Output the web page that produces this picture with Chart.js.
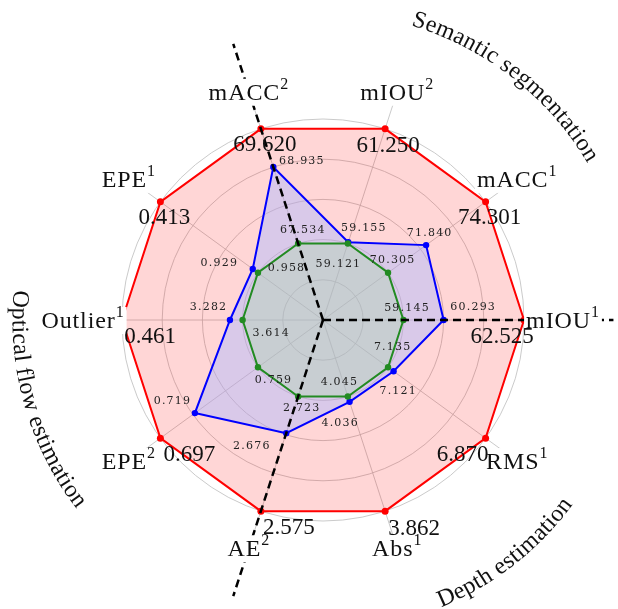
<!DOCTYPE html>
<html lang="en">
<head>
<meta charset="UTF-8">
<title>Multi-task radar</title>
<script src="https://cdn.jsdelivr.net/npm/chart.js"></script>
<style>
  html, body { margin: 0; padding: 0; background: #fff; }
  #wrap { width: 618px; height: 609px; position: relative; }
</style>
</head>
<body>
<div id="wrap"><canvas id="radarChart"></canvas></div>
<script>
// spokes, clockwise starting from the one pointing right
const metrics = ['mIOU¹', 'RMS¹', 'Abs¹', 'AE²', 'EPE²', 'Outlier¹', 'EPE¹', 'mACC²', 'mIOU²', 'mACC¹'];

// normalised radius of each polygon (1 = outer ring)
const outerScores = [1, 1, 1, 1, 1, 1, 1, 1, 1, 1];
const blueScores = [0.60, 0.434, 0.428, 0.592, 0.788, 0.463, 0.432, 0.80, 0.407, 0.634];
const greenScores = [0.40, 0.40, 0.40, 0.40, 0.40, 0.40, 0.40, 0.40, 0.40, 0.40];

// metric values printed next to the points
const outerValues = ['62.525', '6.870', '3.862', '2.575', '0.697', '0.461', '0.413', '69.620', '61.250', '74.301'];
const blueValues = ['60.293', '7.121', '4.036', '2.676', '0.719', '3.282', '0.929', '68.935', '59.155', '71.840'];
const greenValues = ['59.145', '7.135', '4.045', '2.723', '0.759', '3.614', '0.958', '67.534', '59.121', '70.305'];

// task groups and the spokes that separate them
const groupNames = ['Semantic segmentation', 'Optical flow estimation', 'Depth estimation'];
const dividerSpokes = [0, 7, 3];

// label offsets (px, from the point to the text centre)
const outerOffsets = [[-22,17],[-23,17],[29,18],[28,17],[29,17],[28,17],[4,16],[4,16],[3,17],[4,16]];
const blueOffsets = [[29,-13],[4,20],[-10,21],[-35,13],[-23,-12],[-22,-13],[-34,-6],[28,-6],[15,-14],[3,-12]];
const greenOffsets = [[3,-12],[4,-20],[-9,-14],[3,12],[15,13],[28,13],[28,-5],[4,-13],[-10,21],[4,-13]];
// where the group names sit: middle angle (deg, screen), letters facing out or in
const groupArcs = [{ mid: -52, out: true }, { mid: 164, out: false }, { mid: 52, out: false }];

const SERIF = '"Liberation Serif", "Times New Roman", serif';
const SMALL = '"DejaVu Serif", serif';

function arcText(ctx, text, cx, cy, r, midDeg, out) {
  const dir = out ? 1 : -1;
  const total = ctx.measureText(text).width;
  let a = midDeg * Math.PI / 180 - dir * total / r / 2;
  for (const ch of text) {
    const w = ctx.measureText(ch).width;
    const ac = a + dir * (w / 2) / r;
    ctx.save();
    ctx.translate(cx + r * Math.cos(ac), cy + r * Math.sin(ac));
    ctx.rotate(ac + dir * Math.PI / 2);
    ctx.fillText(ch, 0, 0);
    ctx.restore();
    a += dir * w / r;
  }
}

function supLabel(ctx, text, x, y) {
  const last = text.slice(-1);
  const sup = { '¹': '1', '²': '2' }[last];
  const base = sup ? text.slice(0, -1) : text;
  ctx.letterSpacing = '0.9px';
  ctx.font = '24px ' + SERIF;
  const bw = ctx.measureText(base).width;
  ctx.font = '16px ' + SERIF;
  const sw = sup ? ctx.measureText(sup).width : 0;
  const left = x - (bw + sw) / 2;
  // labels sit on a white box, hiding the dashed separators behind them
  ctx.fillStyle = '#fff';
  ctx.fillRect(left - 2, y - 13, bw + sw + 4, 27);
  ctx.fillStyle = '#111';
  ctx.textAlign = 'left';
  ctx.textBaseline = 'alphabetic';
  ctx.font = '24px ' + SERIF;
  ctx.fillText(base, left, y + 8);
  if (sup) {
    ctx.font = '16px ' + SERIF;
    ctx.fillText(sup, left + bw, y - 3);
  }
  ctx.letterSpacing = '0px';
}

const decorations = {
  id: 'decorations',
  beforeDatasetsDraw(chart) {
    const ctx = chart.ctx, r = chart.scales.r;
    ctx.save();
    ctx.strokeStyle = '#bdbdbd';
    ctx.lineWidth = 0.8;
    metrics.forEach((m, i) => {
      const p = r.getPointPosition(i, r.drawingArea * 1.15);
      ctx.beginPath();
      ctx.moveTo(r.xCenter, r.yCenter);
      ctx.lineTo(p.x, p.y);
      ctx.stroke();
    });
    ctx.restore();
  },
  afterDatasetsDraw(chart) {
    const ctx = chart.ctx, r = chart.scales.r;
    ctx.save();
    // dashed separators between the tasks
    ctx.strokeStyle = '#000';
    ctx.lineWidth = 2.5;
    ctx.setLineDash([8, 5]);
    dividerSpokes.forEach(i => {
      const p = r.getPointPosition(i, r.drawingArea * 1.445);
      ctx.beginPath();
      ctx.moveTo(r.xCenter, r.yCenter);
      ctx.lineTo(p.x, p.y);
      ctx.stroke();
    });
    ctx.setLineDash([]);

    metrics.forEach((m, i) => {
      const p = r.getPointPosition(i, r.drawingArea * 1.194);
      supLabel(ctx, m, p.x, p.y);
    });

    const sets = [
      [outerValues, outerOffsets, 2, '23px ' + SERIF, 0],
      [blueValues, blueOffsets, 1, '11px ' + SMALL, 1.2],
      [greenValues, greenOffsets, 0, '11px ' + SMALL, 1.2]
    ];
    ctx.textAlign = 'center';
    ctx.textBaseline = 'middle';
    sets.forEach(([vals, offs, ds, font, spacing]) => {
      const meta = chart.getDatasetMeta(ds);
      ctx.font = font;
      ctx.letterSpacing = spacing + 'px';
      ctx.fillStyle = spacing ? '#222' : '#111';
      vals.forEach((v, i) => {
        const pt = meta.data[i];
        ctx.fillText(v, pt.x + offs[i][0] + spacing / 2, pt.y + offs[i][1]);
      });
    });

    ctx.font = '24px ' + SERIF;
    ctx.letterSpacing = '0.3px';
    ctx.fillStyle = '#111';
    ctx.textAlign = 'center';
    ctx.textBaseline = 'alphabetic';
    groupNames.forEach((g, k) => {
      const rad = r.drawingArea * (groupArcs[k].out ? 1.53 : 1.545);
      arcText(ctx, g, r.xCenter, r.yCenter, rad, groupArcs[k].mid, groupArcs[k].out);
    });
    ctx.letterSpacing = '0px';
    ctx.restore();
  }
};

new Chart(document.getElementById('radarChart'), {
  type: 'radar',
  data: {
    labels: metrics,
    datasets: [
      {
        label: 'green',
        data: greenScores,
        borderColor: '#228b22',
        backgroundColor: 'rgba(160,214,156,0.3)',
        pointBackgroundColor: '#228b22',
        pointBorderWidth: 0,
        pointRadius: 3.2,
        borderWidth: 2,
        fill: true
      },
      {
        label: 'blue',
        data: blueScores,
        borderColor: '#0000ff',
        backgroundColor: 'rgba(170,185,255,0.45)',
        pointBackgroundColor: '#0000ff',
        pointBorderWidth: 0,
        pointRadius: 3.2,
        borderWidth: 2,
        fill: true
      },
      {
        label: 'red',
        data: outerScores,
        borderColor: '#ff0000',
        backgroundColor: 'rgba(255,0,0,0.16)',
        pointBackgroundColor: '#ff0000',
        pointBorderWidth: 0,
        pointRadius: 3.5,
        borderWidth: 2,
        fill: true
      }
    ]
  },
  options: {
    responsive: true,
    maintainAspectRatio: false,
    animation: false,
    layout: { padding: { left: 122, right: 94, top: 119, bottom: 88 } },
    elements: { line: { tension: 0 } },
    plugins: {
      legend: { display: false },
      tooltip: { enabled: false }
    },
    scales: {
      r: {
        min: 0,
        max: 1,
        startAngle: 90,
        ticks: { display: false, stepSize: 0.2 },
        grid: { circular: true, color: '#bdbdbd', lineWidth: 0.8 },
        angleLines: { display: false },
        pointLabels: { display: false }
      }
    }
  },
  plugins: [decorations]
});
</script>
</body>
</html>
